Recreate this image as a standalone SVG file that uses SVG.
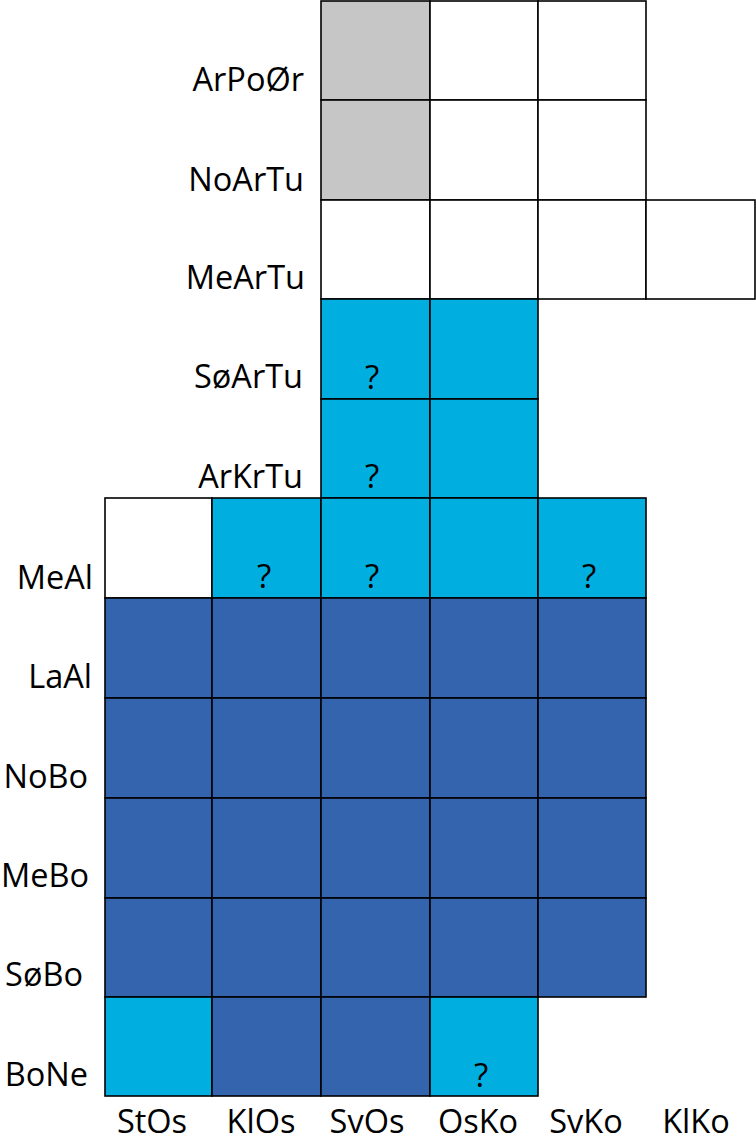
<svg xmlns="http://www.w3.org/2000/svg" width="756" height="1143" viewBox="0 0 756 1143">
<style>
.c{stroke:#000;stroke-width:1.6}
.w{fill:#fff}
.g{fill:#c6c6c6}
.l{fill:#00afdf}
.d{fill:#3364ad}
text{font-family:"Open Sans","Liberation Sans",sans-serif;font-size:32.5px;fill:#000}
.rl{text-anchor:end}
.cl{text-anchor:middle}
.q{text-anchor:middle;font-size:33px}
</style>
<rect width="756" height="1143" fill="#fff"/>
<g id="cells">
<g id="ArPoOr-SvOs"><rect class="c g" x="321" y="1" width="109" height="99"/></g>
<g id="ArPoOr-OsKo"><rect class="c w" x="430" y="1" width="108" height="99"/></g>
<g id="ArPoOr-SvKo"><rect class="c w" x="538" y="1" width="108" height="99"/></g>
<g id="NoArTu-SvOs"><rect class="c g" x="321" y="100" width="109" height="100"/></g>
<g id="NoArTu-OsKo"><rect class="c w" x="430" y="100" width="108" height="100"/></g>
<g id="NoArTu-SvKo"><rect class="c w" x="538" y="100" width="108" height="100"/></g>
<g id="MeArTu-SvOs"><rect class="c w" x="321" y="200" width="109" height="99"/></g>
<g id="MeArTu-OsKo"><rect class="c w" x="430" y="200" width="108" height="99"/></g>
<g id="MeArTu-SvKo"><rect class="c w" x="538" y="200" width="108" height="99"/></g>
<g id="MeArTu-KlKo"><rect class="c w" x="646" y="200" width="109" height="99"/></g>
<g id="SoArTu-SvOs"><rect class="c l" x="321" y="299" width="109" height="100"/><text class="q" x="372" y="389">?</text></g>
<g id="SoArTu-OsKo"><rect class="c l" x="430" y="299" width="108" height="100"/></g>
<g id="ArKrTu-SvOs"><rect class="c l" x="321" y="399" width="109" height="99"/><text class="q" x="372" y="488">?</text></g>
<g id="ArKrTu-OsKo"><rect class="c l" x="430" y="399" width="108" height="99"/></g>
<g id="MeAl-StOs"><rect class="c w" x="105" y="498" width="107" height="100"/></g>
<g id="MeAl-KlOs"><rect class="c l" x="212" y="498" width="109" height="100"/><text class="q" x="264" y="588">?</text></g>
<g id="MeAl-SvOs"><rect class="c l" x="321" y="498" width="109" height="100"/><text class="q" x="372" y="588">?</text></g>
<g id="MeAl-OsKo"><rect class="c l" x="430" y="498" width="108" height="100"/></g>
<g id="MeAl-SvKo"><rect class="c l" x="538" y="498" width="108" height="100"/><text class="q" x="589" y="588">?</text></g>
<g id="LaAl-StOs"><rect class="c d" x="105" y="598" width="107" height="100"/></g>
<g id="LaAl-KlOs"><rect class="c d" x="212" y="598" width="109" height="100"/></g>
<g id="LaAl-SvOs"><rect class="c d" x="321" y="598" width="109" height="100"/></g>
<g id="LaAl-OsKo"><rect class="c d" x="430" y="598" width="108" height="100"/></g>
<g id="LaAl-SvKo"><rect class="c d" x="538" y="598" width="108" height="100"/></g>
<g id="NoBo-StOs"><rect class="c d" x="105" y="698" width="107" height="100"/></g>
<g id="NoBo-KlOs"><rect class="c d" x="212" y="698" width="109" height="100"/></g>
<g id="NoBo-SvOs"><rect class="c d" x="321" y="698" width="109" height="100"/></g>
<g id="NoBo-OsKo"><rect class="c d" x="430" y="698" width="108" height="100"/></g>
<g id="NoBo-SvKo"><rect class="c d" x="538" y="698" width="108" height="100"/></g>
<g id="MeBo-StOs"><rect class="c d" x="105" y="798" width="107" height="100"/></g>
<g id="MeBo-KlOs"><rect class="c d" x="212" y="798" width="109" height="100"/></g>
<g id="MeBo-SvOs"><rect class="c d" x="321" y="798" width="109" height="100"/></g>
<g id="MeBo-OsKo"><rect class="c d" x="430" y="798" width="108" height="100"/></g>
<g id="MeBo-SvKo"><rect class="c d" x="538" y="798" width="108" height="100"/></g>
<g id="SoBo-StOs"><rect class="c d" x="105" y="898" width="107" height="99"/></g>
<g id="SoBo-KlOs"><rect class="c d" x="212" y="898" width="109" height="99"/></g>
<g id="SoBo-SvOs"><rect class="c d" x="321" y="898" width="109" height="99"/></g>
<g id="SoBo-OsKo"><rect class="c d" x="430" y="898" width="108" height="99"/></g>
<g id="SoBo-SvKo"><rect class="c d" x="538" y="898" width="108" height="99"/></g>
<g id="BoNe-StOs"><rect class="c l" x="105" y="997" width="107" height="99"/></g>
<g id="BoNe-KlOs"><rect class="c d" x="212" y="997" width="109" height="99"/></g>
<g id="BoNe-SvOs"><rect class="c d" x="321" y="997" width="109" height="99"/></g>
<g id="BoNe-OsKo"><rect class="c l" x="430" y="997" width="108" height="99"/><text class="q" x="481" y="1087">?</text></g>
</g>
<g id="row-labels">
<text class="rl" x="304" y="91">ArPoØr</text>
<text class="rl" x="304" y="191">NoArTu</text>
<text class="rl" x="305" y="289">MeArTu</text>
<text class="rl" x="303" y="388">SøArTu</text>
<text class="rl" x="303" y="488">ArKrTu</text>
<text class="rl" x="93" y="589">MeAl</text>
<text class="rl" x="92" y="688">LaAl</text>
<text class="rl" x="88" y="788">NoBo</text>
<text class="rl" x="89" y="887">MeBo</text>
<text class="rl" x="83" y="986">SøBo</text>
<text class="rl" x="88" y="1086">BoNe</text>
</g>
<g id="col-labels">
<text class="cl" x="152" y="1133">StOs</text>
<text class="cl" x="261" y="1133">KlOs</text>
<text class="cl" x="367" y="1133">SvOs</text>
<text class="cl" x="478" y="1133">OsKo</text>
<text class="cl" x="586" y="1133">SvKo</text>
<text class="cl" x="696" y="1133">KlKo</text>
</g>
</svg>
